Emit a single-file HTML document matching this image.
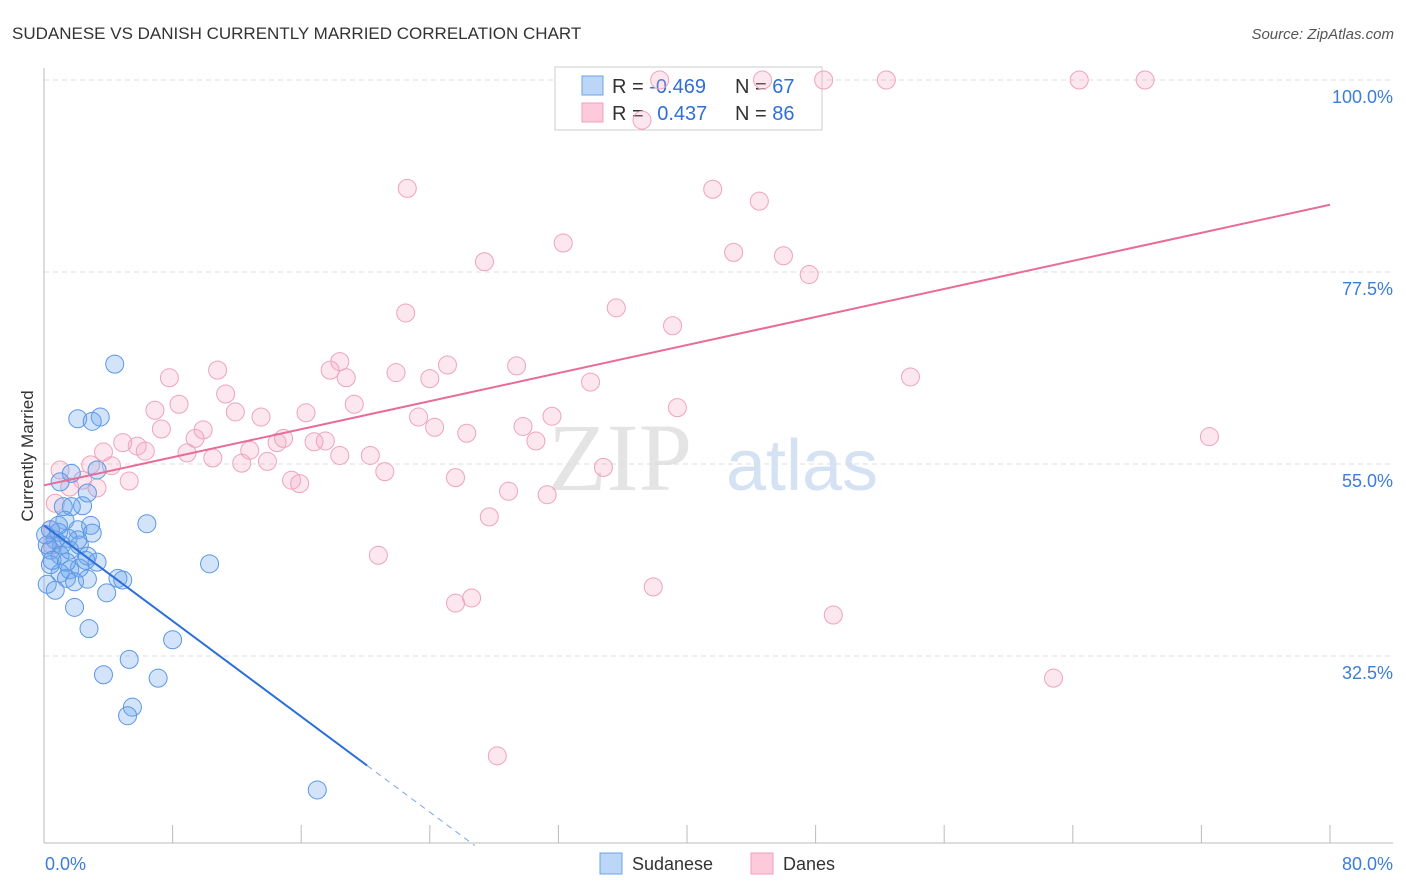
<!DOCTYPE html>
<html><head><meta charset="utf-8"><style>
body{margin:0;background:#fff;font-family:"Liberation Sans",sans-serif}
svg{display:block}
</style></head><body>
<svg id="chart" width="1406" height="892" xmlns="http://www.w3.org/2000/svg">
<text x="12" y="39" font-size="17" fill="#333" font-family="Liberation Sans, sans-serif">SUDANESE VS DANISH CURRENTLY MARRIED CORRELATION CHART</text>
<text x="1394" y="39" font-size="15" fill="#555" text-anchor="end" font-style="italic">Source: ZipAtlas.com</text>
<g>
<text x="620" y="490" font-size="96" fill="#e4e4e4" text-anchor="middle" font-family="Liberation Serif, serif">ZIP</text>
<text x="802" y="490" font-size="72" fill="#d4e2f4" text-anchor="middle">atlas</text>
</g>
<g id="grid"></g>
<g id="axes"></g>
<g>
<rect x="555" y="67" width="267" height="63" fill="#fff" stroke="#ccc"/>
<rect x="582" y="76" width="21" height="19" fill="#bcd6f8" stroke="#6da3e6"/>
<rect x="582" y="103" width="21" height="19" fill="#fccadb" stroke="#f0a0bb"/>
<text x="612" y="93" font-size="20" fill="#333">R = <tspan fill="#2f6fd6">-0.469</tspan></text>
<text x="735" y="93" font-size="20" fill="#333">N = <tspan fill="#2f6fd6">67</tspan></text>
<text x="612" y="120" font-size="20" fill="#333">R = <tspan fill="#2f6fd6" dx="8">0.437</tspan></text>
<text x="735" y="120" font-size="20" fill="#333">N = <tspan fill="#2f6fd6">86</tspan></text>
</g>
<g id="pts"></g>
<g id="trends"></g>
<text transform="translate(33,456) rotate(-90)" font-size="17" fill="#333" text-anchor="middle">Currently Married</text>
<g>
<rect x="600" y="853" width="22" height="21" fill="#bcd6f8" stroke="#6da3e6"/>
<text x="632" y="870" font-size="18" fill="#333">Sudanese</text>
<rect x="751" y="853" width="22" height="21" fill="#fccadb" stroke="#f0a0bb"/>
<text x="783" y="870" font-size="18" fill="#333">Danes</text>
</g>
</svg>
<script>
const yTicks=[100,77.5,55,32.5];
const yTickLabels=["100.0%","77.5%","55.0%","32.5%"];
const xEndLabels=["0.0%","80.0%"];
const danesX=[38.3,44.7,48.5,52.4,64.4,68.5,37.2,22.6,41.6,44.5,32.3,42.9,46.0,27.4,47.6,22.5,35.6,39.1,7.8,10.8,11.3,18.4,17.8,18.8,21.9,24.0,25.1,29.4,34.0,53.9,6.9,8.4,11.9,13.5,16.3,19.3,23.3,24.3,26.3,29.8,31.6,30.6,39.4,72.5,7.3,4.9,5.8,6.3,9.4,9.9,8.9,10.5,12.3,12.8,13.9,14.5,14.9,16.8,17.5,18.4,20.3,21.2,15.4,15.9,25.6,28.9,31.3,34.8,27.7,20.8,25.6,26.6,37.9,49.1,62.8,28.2,3.7,3.3,2.9,1.6,2.4,5.3,4.2,0.7,1.0,0.4,0.5];
const danesY=[100,100,100,100,100,100,95.3,87.3,87.2,85.8,80.9,79.8,79.4,78.7,77.2,72.7,73.3,71.2,65.1,66.0,63.2,67.0,66.0,65.1,65.7,65.0,66.6,66.5,64.6,65.2,61.3,62.0,61.1,60.5,61.0,62.0,60.5,59.3,58.6,59.4,60.6,57.7,61.6,58.2,59.1,57.5,57.1,56.5,58.0,59.0,56.3,55.7,55.1,56.6,55.3,57.5,58.0,57.6,57.7,56.0,56.0,54.1,53.1,52.7,53.4,51.8,51.4,54.6,48.8,44.3,38.7,39.3,40.6,37.3,29.9,20.8,56.4,52.2,54.9,52.3,53.1,53.0,54.8,50.4,54.3,47.3,45.5];
const sudX=[4.4,2.1,3.5,3.0,1.7,3.3,2.7,1.0,2.4,1.7,1.2,1.3,2.9,2.1,3.0,6.4,0.4,0.9,1.5,0.7,1.1,2.2,0.4,1.0,2.7,3.3,10.3,0.4,1.6,1.0,2.2,1.4,1.9,2.7,4.6,4.9,0.2,0.7,3.9,1.9,2.8,5.3,3.7,7.1,8.0,5.5,5.2,17.0,0.2,0.5,0.9,0.1,1.6,1.4,2.1,2.6];
const sudY=[66.7,60.3,60.5,60.0,53.9,54.3,51.6,52.9,50.1,50.0,50.0,48.4,47.8,47.3,46.9,48.0,47.3,47.0,46.3,46.1,45.5,45.5,44.9,44.3,44.2,43.5,43.3,43.2,42.6,42.2,42.8,41.6,41.2,41.5,41.6,41.4,40.9,40.2,39.9,38.2,35.7,32.1,30.3,29.9,34.4,26.5,25.5,16.8,45.5,43.7,47.8,46.7,44.9,43.5,46.1,43.7];
const sudTrend=[47.8,-1.40];
const sudSolidEnd=20.1, sudDashEnd=26.8;
const danesTrend=[52.5,0.411];

const NS="http://www.w3.org/2000/svg";
const X0=44,X1=1330,XMAX=80,YT=80,PPY=8.533;
const xs=v=>X0+v/XMAX*(X1-X0);
const ys=v=>YT+(100-v)*PPY;
function mk(tag,attrs,parent){const e=document.createElementNS(NS,tag);for(const k in attrs)e.setAttribute(k,attrs[k]);parent.appendChild(e);return e;}
const grid=document.getElementById('grid'),axes=document.getElementById('axes'),pts=document.getElementById('pts'),tr=document.getElementById('trends');
yTicks.forEach((t,i)=>{
 const l=mk('line',{x1:X0,x2:1393,y1:ys(t),y2:ys(t),stroke:'#ddd','stroke-dasharray':'5,4'},grid);
 
 
 const tx=mk('text',{x:1393,y:ys(t)+23,'font-size':18,fill:'#3b7dd8','text-anchor':'end'},grid);
 tx.textContent=yTickLabels[i];
 
 
});
const ax=mk('line',{x1:X0,x2:X0,y1:68,y2:843,stroke:'#bbb'},axes);


const bx=mk('line',{x1:X0,x2:1393,y1:843,y2:843,stroke:'#bbb'},axes);


for(let i=1;i<=10;i++){const t=mk('line',{x1:xs(i*8),x2:xs(i*8),y1:825,y2:843,stroke:'#bbb'},axes);
 
 }
const xl0=mk('text',{x:45,y:870,'font-size':18,fill:'#3b7dd8'},axes);xl0.textContent=xEndLabels[0];


const xl1=mk('text',{x:1393,y:870,'font-size':18,fill:'#3b7dd8','text-anchor':'end'},axes);xl1.textContent=xEndLabels[1];


danesX.forEach((x,i)=>{const c=mk('circle',{cx:xs(x),cy:ys(danesY[i]),r:9,fill:'rgba(246,170,196,0.28)',stroke:'#eea3bc','stroke-width':1},pts);
 
 });
sudX.forEach((x,i)=>{const c=mk('circle',{cx:xs(x),cy:ys(sudY[i]),r:9,fill:'rgba(110,165,240,0.3)',stroke:'#5b97e4','stroke-width':1},pts);
 
 });
const f=(t,x)=>t[0]+t[1]*x;
const l1=mk('line',{x1:xs(0),y1:ys(f(sudTrend,0)),x2:xs(sudSolidEnd),y2:ys(f(sudTrend,sudSolidEnd)),stroke:'#2a70d8','stroke-width':2},tr);


const l2=mk('line',{x1:xs(sudSolidEnd),y1:ys(f(sudTrend,sudSolidEnd)),x2:xs(sudDashEnd),y2:ys(f(sudTrend,sudDashEnd)),stroke:'#7aa6e0','stroke-width':1,'stroke-dasharray':'6,5'},tr);


const l3=mk('line',{x1:xs(0),y1:ys(f(danesTrend,0)),x2:xs(80),y2:ys(f(danesTrend,80)),stroke:'#e86b98','stroke-width':2},tr);


</script>
</body></html>
